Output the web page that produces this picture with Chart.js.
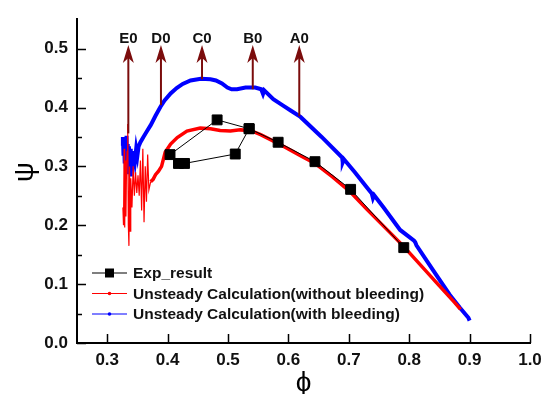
<!DOCTYPE html>
<html>
<head>
<meta charset="utf-8">
<script src="https://cdn.jsdelivr.net/npm/chart.js@4.4.1/dist/chart.umd.min.js"></script>
<style>
  body { margin: 0; background: #fff; }
  #wrap { width: 550px; height: 394px; }
</style>
</head>
<body>
<div id="wrap"><canvas id="myChart"></canvas></div>
<script>
// tick labels
const xTicks = [0.3, 0.4, 0.5, 0.6, 0.7, 0.8, 0.9, 1.0];
const yTicks = [0.0, 0.1, 0.2, 0.3, 0.4, 0.5];
const yMinor = [0.05, 0.15, 0.25, 0.35, 0.45];

// experiment
const expPhi = [0.791, 0.703, 0.644, 0.583, 0.535, 0.482, 0.404, 0.418, 0.428, 0.512, 0.535];
const expPsi = [0.162, 0.261, 0.308, 0.341, 0.364, 0.379, 0.320, 0.305, 0.305, 0.321, 0.364];

// unsteady calc, no bleeding
const noBleedPhi = [0.326, 0.327, 0.328, 0.329, 0.330, 0.331, 0.332, 0.333, 0.334, 0.335, 0.336, 0.337,
  0.338, 0.339, 0.341, 0.343, 0.345, 0.347, 0.349, 0.351, 0.353, 0.355, 0.357, 0.359, 0.361, 0.363,
  0.365, 0.367, 0.369, 0.372, 0.376, 0.380, 0.385, 0.390, 0.396, 0.405, 0.416, 0.432, 0.454, 0.471,
  0.487, 0.504, 0.520, 0.537, 0.554, 0.581, 0.608, 0.620, 0.644, 0.673, 0.703, 0.730, 0.760, 0.790,
  0.820, 0.850, 0.875, 0.885];
const noBleedPsi = [0.230, 0.200, 0.330, 0.196, 0.310, 0.215, 0.300, 0.325, 0.372, 0.200, 0.165, 0.300,
  0.190, 0.280, 0.230, 0.300, 0.250, 0.290, 0.255, 0.285, 0.250, 0.310, 0.225, 0.330, 0.205, 0.300,
  0.240, 0.320, 0.260, 0.274, 0.278, 0.286, 0.292, 0.300, 0.324, 0.338, 0.349, 0.360, 0.365, 0.364,
  0.361, 0.360, 0.362, 0.361, 0.354, 0.340, 0.325, 0.318, 0.305, 0.282, 0.256, 0.227, 0.196, 0.165,
  0.131, 0.097, 0.069, 0.057];

// unsteady calc, with bleeding
const bleedPhi = [0.325, 0.326, 0.327, 0.328, 0.329, 0.330, 0.331, 0.332, 0.333, 0.334, 0.335, 0.336,
  0.337, 0.338, 0.339, 0.340, 0.341, 0.342, 0.343, 0.344, 0.346, 0.348, 0.350, 0.352, 0.355, 0.360,
  0.366, 0.372, 0.380, 0.388, 0.395, 0.405, 0.415, 0.425, 0.438, 0.455, 0.471, 0.480, 0.490, 0.499,
  0.506, 0.515, 0.529, 0.545, 0.555, 0.558, 0.560, 0.575, 0.590, 0.605, 0.620, 0.655, 0.689, 0.690,
  0.692, 0.710, 0.730, 0.738, 0.740, 0.742, 0.757, 0.785, 0.808, 0.810, 0.812, 0.840, 0.867, 0.884,
  0.898, 0.900];
const bleedPsi = [0.335, 0.350, 0.318, 0.345, 0.305, 0.342, 0.296, 0.352, 0.300, 0.338, 0.290, 0.334,
  0.287, 0.330, 0.283, 0.326, 0.292, 0.322, 0.300, 0.325, 0.310, 0.330, 0.318, 0.334, 0.341, 0.350,
  0.360, 0.370, 0.386, 0.401, 0.412, 0.424, 0.433, 0.440, 0.446, 0.449, 0.448, 0.446, 0.441, 0.434,
  0.431, 0.431, 0.434, 0.434, 0.431, 0.423, 0.429, 0.414, 0.404, 0.394, 0.384, 0.350, 0.315, 0.307,
  0.312, 0.290, 0.264, 0.254, 0.246, 0.251, 0.231, 0.192, 0.174, 0.171, 0.166, 0.123, 0.082, 0.060,
  0.043, 0.038];

// operating point markers
const arrowLabels = ['E0', 'D0', 'C0', 'B0', 'A0'];
const arrowPhi = [0.335, 0.389, 0.457, 0.541, 0.618];
const arrowBase = [0.356, 0.404, 0.448, 0.431, 0.385];
const arrowTip = 0.506;
const arrowText = 0.517;

const FONT = '"Liberation Sans", Arial, sans-serif';
Chart.defaults.font.family = FONT;
Chart.defaults.color = '#000';

function pts(xs, ys) {
  return xs.map((x, i) => ({ x: x, y: ys[i] }));
}

const extras = {
  id: 'extras',
  afterDatasetsDraw(chart) {
    const ctx = chart.ctx;
    const xs = chart.scales.x, ys = chart.scales.y;
    const area = chart.chartArea;
    ctx.save();

    // inward ticks
    ctx.strokeStyle = '#000';
    ctx.lineWidth = 1.5;
    ctx.beginPath();
    xTicks.forEach(v => {
      const px = Math.round(xs.getPixelForValue(v)) + 0.5;
      ctx.moveTo(px, area.bottom);
      ctx.lineTo(px, area.bottom - 9);
    });
    yTicks.forEach(v => {
      const py = Math.round(ys.getPixelForValue(v)) + 0.5;
      ctx.moveTo(area.left, py);
      ctx.lineTo(area.left + 9, py);
    });
    yMinor.forEach(v => {
      const py = Math.round(ys.getPixelForValue(v)) + 0.5;
      ctx.moveTo(area.left, py);
      ctx.lineTo(area.left + 5, py);
    });
    ctx.stroke();

    // y title, upright glyph turned like the original
    ctx.save();
    ctx.translate(25, (area.top + area.bottom) / 2 - 9);
    ctx.rotate(-Math.PI / 2);
    ctx.font = '28px ' + FONT;
    ctx.fillStyle = '#000';
    ctx.textAlign = 'center';
    ctx.textBaseline = 'middle';
    ctx.fillText('ψ', 0, 0);
    ctx.restore();

    // arrows
    const dark = '#7b0c0c';
    ctx.strokeStyle = dark;
    ctx.fillStyle = dark;
    ctx.lineWidth = 2;
    arrowPhi.forEach((p, i) => {
      const px = xs.getPixelForValue(p);
      const y0 = ys.getPixelForValue(arrowBase[i]);
      const y1 = ys.getPixelForValue(arrowTip);
      ctx.beginPath();
      ctx.moveTo(px, y0);
      ctx.lineTo(px, y1 + 12);
      ctx.stroke();
      ctx.beginPath();
      ctx.moveTo(px, y1);
      ctx.lineTo(px + 5.5, y1 + 18);
      ctx.lineTo(px, y1 + 13);
      ctx.lineTo(px - 5.5, y1 + 18);
      ctx.closePath();
      ctx.fill();
    });
    ctx.fillStyle = '#111';
    ctx.font = 'bold 15px ' + FONT;
    ctx.textAlign = 'center';
    ctx.textBaseline = 'middle';
    arrowLabels.forEach((t, i) => {
      ctx.fillText(t, xs.getPixelForValue(arrowPhi[i]), ys.getPixelForValue(arrowText));
    });

    // legend inside the plot
    const lx = area.left + 15;
    let ly = area.bottom - 70;
    ctx.textAlign = 'left';
    ctx.font = 'bold 15.5px ' + FONT;
    chart.data.datasets.forEach(ds => {
      ctx.strokeStyle = ds.borderColor;
      ctx.lineWidth = 1.2;
      ctx.beginPath();
      ctx.moveTo(lx, ly);
      ctx.lineTo(lx + 35, ly);
      ctx.stroke();
      ctx.fillStyle = ds.borderColor;
      if (ds.pointStyle === 'rect') {
        ctx.fillRect(lx + 13, ly - 4.5, 9, 9);
      } else {
        ctx.beginPath();
        ctx.arc(lx + 17.5, ly, 1.8, 0, Math.PI * 2);
        ctx.fill();
      }
      ctx.fillStyle = '#111';
      ctx.fillText(ds.label, lx + 41, ly + 1);
      ly += 20.5;
    });
    ctx.restore();
  }
};

const ctx = document.getElementById('myChart').getContext('2d');
new Chart(ctx, {
  type: 'scatter',
  data: {
    datasets: [{
      label: 'Exp_result',
      data: pts(expPhi, expPsi),
      showLine: true,
      borderColor: '#000',
      backgroundColor: '#000',
      borderWidth: 1,
      pointStyle: 'rect',
      pointRadius: 7,
      pointHoverRadius: 7
    }, {
      label: 'Unsteady Calculation(without bleeding)',
      data: pts(noBleedPhi, noBleedPsi),
      showLine: true,
      borderColor: '#ff0000',
      backgroundColor: '#ff0000',
      borderWidth: 3.5,
      pointRadius: 0,
      segment: {
        borderWidth: c => c.p0.parsed.x < 0.37 ? 1.2 : 3.5
      }
    }, {
      label: 'Unsteady Calculation(with bleeding)',
      data: pts(bleedPhi, bleedPsi),
      showLine: true,
      borderColor: '#0000ff',
      backgroundColor: '#0000ff',
      borderWidth: 4,
      pointRadius: 0
    }]
  },
  options: {
    responsive: true,
    maintainAspectRatio: false,
    animation: false,
    layout: { padding: { top: 10, right: 20, left: 0, bottom: 0 } },
    plugins: {
      legend: { display: false },
      tooltip: { enabled: false }
    },
    scales: {
      x: {
        type: 'linear',
        min: 0.25,
        max: 1.0,
        afterBuildTicks: s => { s.ticks = xTicks.map(v => ({ value: v })); },
        afterFit: s => { s.height = 51; },
        grid: { display: false, drawTicks: false },
        border: { display: true, color: '#000', width: 2 },
        ticks: {
          padding: 7,
          font: { size: 17, weight: 'bold' },
          color: '#111',
          callback: v => v.toFixed(1)
        },
        title: {
          display: true,
          text: 'ϕ',
          font: { size: 28, lineHeight: 1 },
          padding: { top: 0, bottom: -3 },
          color: '#000'
        }
      },
      y: {
        type: 'linear',
        min: 0,
        max: 0.55,
        afterBuildTicks: s => { s.ticks = yTicks.map(v => ({ value: v })); },
        afterFit: s => { s.width = 77; },
        grid: { display: false, drawTicks: false },
        border: { display: true, color: '#000', width: 2 },
        ticks: {
          padding: 9,
          font: { size: 17, weight: 'bold' },
          color: '#111',
          callback: v => v.toFixed(1)
        }
      }
    }
  },
  plugins: [extras]
});
</script>
</body>
</html>
